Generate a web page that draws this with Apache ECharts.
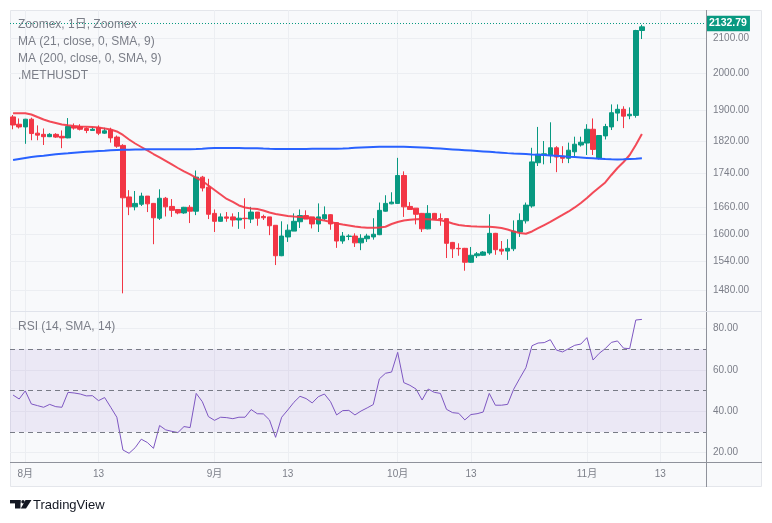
<!DOCTYPE html>
<html>
<head>
<meta charset="utf-8">
<script src="https://cdn.jsdelivr.net/npm/echarts@6/dist/echarts.min.js"></script>
<style>
html,body{margin:0;padding:0;background:#ffffff;}
#chart{width:772px;height:523px;}
</style>
</head>
<body>
<div id="chart"></div>
<script>
// ---------- DATA ----------
const startDate = '2023-07-30';
const dayCount = 114; // 104 candles + empty space on the right

const openVals = [1882,1863,1856,1876,1840,1837,1831,1837,1832,1828,
1858,1857,1852,1847,1854,1840,1848,1830,1809,1684,
1661,1667,1686,1669,1635,1681,1662,1655,1647,1660,
1651,1731,1707,1646,1628,1638,1638,1631,1635,1633,
1649,1639,1638,1619,1552,1593,1606,1627,1641,1638,
1622,1634,1643,1625,1584,1594,1595,1580,1589,1593,
1598,1651,1668,1669,1735,1662,1658,1646,1611,1646,
1634,1634,1581,1568,1568,1538,1552,1553,1558,1601,
1566,1562,1567,1604,1629,1663,1766,1785,1785,1803,
1782,1777,1793,1810,1815,1850,1777,1833,1856,1892,
1902,1885,1886,2122];

const closeVals = [1861,1856,1876,1839,1835,1831,1837,1830,1828,1857,
1853,1850,1847,1850,1840,1846,1828,1807,1682,1661,
1669,1686,1668,1636,1681,1661,1653,1647,1660,1651,
1731,1705,1644,1628,1638,1635,1631,1635,1634,1649,
1635,1636,1618,1552,1595,1608,1628,1641,1633,1622,
1638,1643,1622,1584,1595,1595,1580,1590,1595,1599,
1653,1669,1672,1735,1661,1655,1644,1611,1646,1633,
1633,1579,1567,1567,1538,1553,1556,1560,1601,1565,
1562,1568,1606,1630,1665,1768,1787,1788,1803,1780,
1777,1797,1812,1817,1850,1799,1834,1857,1893,1902,
1884,1889,2122,2132.79];

const highVals = [1887,1878,1877,1880,1860,1852,1840,1840,1847,1879,
1865,1863,1855,1855,1860,1854,1854,1834,1812,1700,
1698,1694,1686,1670,1702,1684,1679,1656,1661,1665,
1747,1734,1727,1655,1646,1649,1646,1649,1681,1661,
1649,1643,1638,1619,1628,1621,1646,1655,1653,1638,
1669,1662,1644,1626,1604,1599,1601,1599,1600,1635,
1671,1688,1695,1778,1745,1672,1658,1647,1665,1647,
1646,1634,1582,1579,1569,1571,1560,1562,1644,1602,
1584,1588,1630,1646,1671,1803,1856,1820,1868,1807,
1807,1816,1831,1831,1863,1878,1835,1864,1915,1915,
1910,1907,2124,2139];

const lowVals = [1850,1852,1813,1822,1822,1810,1830,1828,1802,1827,
1849,1847,1840,1847,1835,1838,1816,1803,1473,1642,
1653,1663,1649,1577,1631,1639,1638,1644,1645,1624,
1642,1697,1633,1604,1627,1627,1616,1611,1611,1624,
1618,1631,1597,1532,1551,1582,1606,1613,1633,1612,
1604,1630,1609,1569,1578,1586,1571,1564,1582,1587,
1597,1650,1667,1668,1638,1655,1621,1604,1610,1632,
1618,1547,1547,1552,1520,1537,1547,1552,1554,1554,
1554,1543,1562,1593,1623,1659,1758,1762,1765,1743,
1765,1765,1782,1806,1785,1785,1774,1824,1848,1871,
1853,1876,1880,2097];

const ma21Vals = [1891.5,1891.5,1891.5,1888.4,1881.8,1875.3,1870.1,1866.2,1862.3,1860.3,
1858.4,1857.2,1856.4,1855.6,1854.6,1852,1849.4,1844.3,1835.4,1823.9,
1813.8,1805,1796.3,1787.5,1778.9,1770.3,1761.7,1753.1,1744.7,1737.4,
1729,1721.8,1711.1,1700.4,1689.8,1679.3,1672.3,1664.2,1659.6,1657.3,
1656.1,1652.7,1648.1,1644.6,1642.4,1640.1,1638.9,1637.8,1637.2,1635.6,
1632.1,1629.9,1626.5,1623.1,1620.8,1618.6,1616.3,1614.8,1613.6,1613.6,
1614,1615.8,1621.9,1626.5,1629.9,1631.4,1632.7,1633.2,1632.7,1631.7,
1630.5,1627.6,1623.1,1619.6,1617.8,1616.9,1616.3,1615.9,1615.8,1614.8,
1613,1609.7,1605.2,1601.8,1600,1605.2,1612.4,1619.6,1626.5,1634.5,
1642.4,1650.4,1659.6,1670,1681.6,1694.5,1706.3,1718.2,1736.2,1753.1,
1767.8,1785.1,1810,1837.9];

const ma200Vals = [1772.7,1775.2,1777.7,1780.1,1781.9,1783.3,1785.1,1786.8,1788.3,1789.5,
1790.8,1792,1793,1794,1795,1795.7,1796.7,1797.5,1798,1798.3,
1798.8,1799,1799.3,1799.3,1799.3,1799.3,1799.3,1799.3,1799.3,1799.5,
1800,1800.8,1801.8,1802.5,1802.5,1802.5,1802.5,1802.3,1802,1801.8,
1801.8,1801,1800.3,1800,1800,1800,1800,1800,1800,1800.3,
1800.3,1800.3,1800.3,1800.8,1801.3,1802,1803,1804,1804.5,1805,
1805.5,1805.8,1805.8,1805.8,1805.5,1805,1804.5,1803.8,1803,1802,
1801,1800,1799,1798,1797,1796,1795,1794,1793,1791.8,
1790.8,1789.7,1788.7,1788,1787.3,1786.5,1785.8,1785.1,1784.1,1783.1,
1782.1,1780.9,1779.9,1778.9,1777.9,1776.9,1775.9,1774.9,1774.4,1774.2,
1774.4,1775.2,1775.9,1776.9];

const rsiVals = [47.8,45.9,49.8,43.5,42.7,41.9,43.3,42.2,41.9,49.1,
48.8,48.3,47.4,47.5,45.1,46.6,41.9,37.1,21.3,19.7,
22.4,26.5,24.9,22.1,33.1,31.0,30.3,29.7,32.6,32.1,
48.6,44.6,37.4,35.6,37.1,36.9,36.4,37.1,37.1,40.8,
38.8,38.7,35.8,27.4,37.1,40.6,44.3,47.2,46.1,44.0,
47.0,48.3,44.6,38.2,40.3,40.4,38.2,40.1,41.6,43.2,
55.6,58.3,58.9,68.4,53.8,52.5,50.7,45.4,50.7,49.1,
48.6,40.9,39.3,39.0,35.8,38.4,38.8,39.6,48.6,42.9,
42.9,43.3,50.6,55.9,61.0,71.6,72.9,73.1,74.5,69.5,
68.6,70.2,71.8,72.4,75.5,64.7,67.9,70.2,73.2,73.9,
70.4,70.2,84.0,84.3];

const priceTicks = [1480,1540,1600,1660,1740,1820,1900,2000,2100];
const rsiTicks = [20,40,60,80];
const rsiBand = [30,70];
const rsiLevels = [70,50,30];
const xTickDates = ['2023-08-01','2023-08-13','2023-09-01','2023-09-13','2023-10-01','2023-10-13','2023-11-01','2023-11-13'];
const xTickLabels = ['8月','13','9月','13','10月','13','11月','13'];
const legendLines = ['Zoomex, 1日, Zoomex','MA (21, close, 0, SMA, 9)','MA (200, close, 0, SMA, 9)','.METHUSDT'];
const rsiTitle = 'RSI (14, SMA, 14)';

// ---------- BUILD ----------
function fmt(d){const m=d.getUTCMonth()+1, dd=d.getUTCDate();return d.getUTCFullYear()+'-'+(m<10?'0':'')+m+'-'+(dd<10?'0':'')+dd;}
const dates = [];
{ const d0 = new Date(startDate+'T00:00:00Z'); for(let i=0;i<dayCount;i++){ dates.push(fmt(new Date(d0.getTime()+i*86400000))); } }
const xTickIdx = xTickDates.map(d => dates.indexOf(d));

const L = Math.log;
const UP = '#089981', DOWN = '#f23645';
const GRIDC = '#eceef2';
const TXT = '#7b7e88';
const FONT = '"Liberation Sans", "Noto Sans CJK JP", sans-serif';
const lastClose = closeVals[closeVals.length-1];

const candleData = openVals.map((o,i)=>[L(o), L(closeVals[i]), L(lowVals[i]), L(highVals[i])]);

const chart = echarts.init(document.getElementById('chart'), null, {renderer:'canvas'});
const option = {
  animation:false,
  backgroundColor:'#ffffff',
  textStyle:{fontFamily:FONT},
  grid:[
    {left:10, top:10, width:696, height:301},
    {left:10, top:311, width:696, height:151}
  ],
  xAxis:[
    {type:'category', gridIndex:0, position:'bottom', data:dates, show:false, boundaryGap:true},
    {type:'value', gridIndex:0, position:'bottom', min:-0.5, max:dates.length-0.5,
      axisLine:{show:false}, axisTick:{show:false, customValues:xTickIdx},
      axisLabel:{show:false, customValues:xTickIdx},
      splitLine:{show:true, lineStyle:{color:GRIDC, width:1}}},
    {type:'category', gridIndex:1, position:'bottom', data:dates, show:false, boundaryGap:true},
    {type:'value', gridIndex:1, position:'bottom', min:-0.5, max:dates.length-0.5,
      axisLine:{show:false}, axisTick:{show:false, customValues:xTickIdx},
      axisLabel:{show:true, customValues:xTickIdx, margin:7, color:TXT, fontSize:10, fontFamily:FONT,
        formatter:(v)=>{const k=xTickIdx.indexOf(Math.round(v));return k>=0?xTickLabels[k]:'';}},
      splitLine:{show:true, lineStyle:{color:GRIDC, width:1}}}
  ],
  yAxis:[
    {type:'value', gridIndex:0, position:'right', min:L(1437.3), max:L(2183.3),
      axisLine:{show:false}, axisTick:{show:false, customValues:priceTicks.map(L)},
      axisLabel:{customValues:priceTicks.map(L), margin:7, color:TXT, fontSize:10, fontFamily:FONT,
        formatter:(v)=>Math.exp(v).toFixed(2)},
      splitLine:{show:true, lineStyle:{color:GRIDC, width:1}}},
    {type:'value', gridIndex:1, position:'right', min:15.5, max:88.35,
      axisLine:{show:false}, axisTick:{show:false, customValues:rsiTicks},
      axisLabel:{customValues:rsiTicks, margin:7, color:TXT, fontSize:10, fontFamily:FONT,
        formatter:(v)=>Number(v).toFixed(2)},
      splitLine:{show:true, lineStyle:{color:GRIDC, width:1}}}
  ],
  series:[
    {type:'candlestick', xAxisIndex:0, yAxisIndex:0, data:candleData, barWidth:5,
      itemStyle:{color:UP, color0:DOWN, borderColor:UP, borderColor0:DOWN, borderWidth:1},
      markLine:{silent:true, symbol:['none','none'], animation:false,
        lineStyle:{color:UP, type:[1,2], width:1},
        label:{show:true, position:'end', distance:0, formatter:()=>lastClose.toFixed(2),
          backgroundColor:UP, color:'#ffffff', fontWeight:'bold', fontSize:10.5, fontFamily:FONT, padding:[3,3,2,3]},
        data:[{yAxis:L(lastClose)}]}
    },
    {type:'line', name:'MA21', xAxisIndex:0, yAxisIndex:0, data:ma21Vals.map(L), symbol:'none', z:3,
      lineStyle:{color:'rgba(242,54,69,0.9)', width:2}},
    {type:'line', name:'MA200', xAxisIndex:0, yAxisIndex:0, data:ma200Vals.map(L), symbol:'none', z:3,
      lineStyle:{color:'#2962ff', width:2}},
    {type:'line', name:'RSI', xAxisIndex:2, yAxisIndex:1, data:rsiVals, symbol:'none', z:3,
      lineStyle:{color:'#7e57c2', width:1},
      markArea:{silent:true, itemStyle:{color:'rgba(126,87,194,0.1)'}, data:[[{yAxis:rsiBand[0]},{yAxis:rsiBand[1]}]]},
      markLine:{silent:true, symbol:['none','none'], label:{show:false},
        lineStyle:{color:'#787b86', type:[5,4], width:1},
        data:rsiLevels.map(v=>({yAxis:v}))}
    }
  ],
  graphic:[
    {type:'rect', z:-100, silent:true, shape:{x:10.5, y:10.5, width:751, height:476},
      style:{fill:'#f8f9fb', stroke:'#e4e6eb', lineWidth:1}},
    {type:'line', z:50, silent:true, shape:{x1:706.5, y1:10, x2:706.5, y2:487}, style:{stroke:'#8f929b', lineWidth:1}},
    {type:'line', z:50, silent:true, shape:{x1:10, y1:462.5, x2:762, y2:462.5}, style:{stroke:'#8f929b', lineWidth:1}},
    {type:'line', z:50, silent:true, shape:{x1:10, y1:311.5, x2:762, y2:311.5}, style:{stroke:'#e0e3eb', lineWidth:1}},
    ...legendLines.map((t,k)=>({type:'text', z:60, silent:true,
      style:{text:t, x:18, y:25+k*16.8, fill:'#7b7e88', font:'12px '+FONT, verticalAlign:'middle'}})),
    {type:'text', z:60, silent:true, style:{text:rsiTitle, x:18, y:327, fill:'#7b7e88', font:'12px '+FONT, verticalAlign:'middle'}},
    // TradingView logo
    {type:'rect', silent:true, shape:{x:10, y:500, width:10.5, height:3.4}, style:{fill:'#131722'}},
    {type:'rect', silent:true, shape:{x:15, y:500, width:5.5, height:8.5}, style:{fill:'#131722'}},
    {type:'circle', silent:true, shape:{cx:23, cy:501.7, r:1.7}, style:{fill:'#131722'}},
    {type:'polygon', silent:true, shape:{points:[[25.5,500],[31.5,500],[26,508.5],[20.8,508.5]]}, style:{fill:'#131722'}},
    {type:'text', silent:true, style:{text:'TradingView', x:33, y:505, fill:'#131722', font:'13px '+FONT, verticalAlign:'middle'}}
  ]
};
chart.setOption(option);
</script>
</body>
</html>
